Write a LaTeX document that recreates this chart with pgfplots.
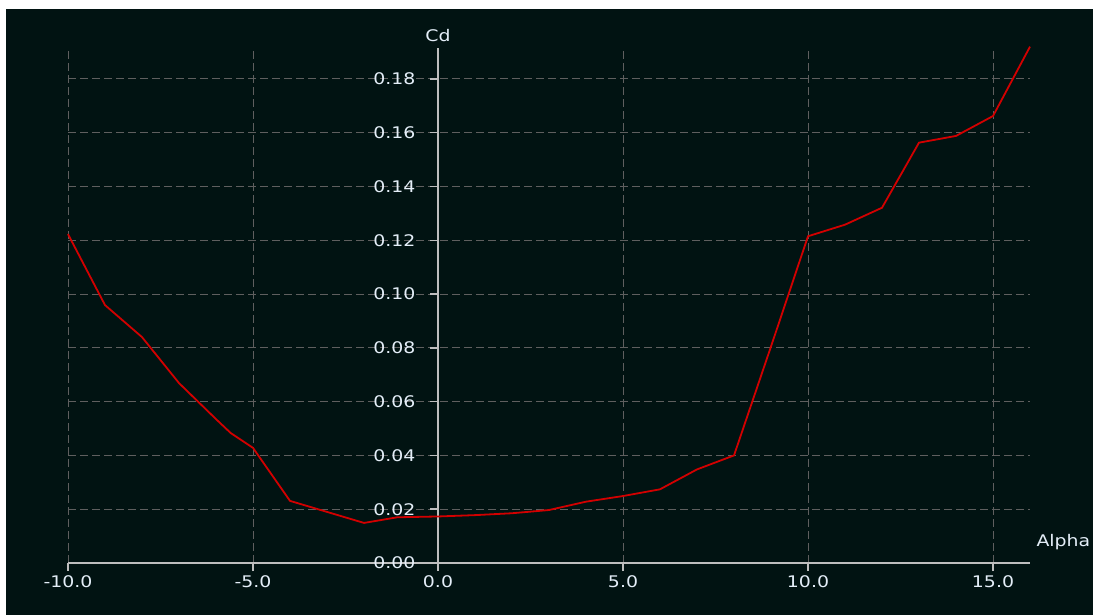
\documentclass[border=0pt]{standalone}
\usepackage{fontspec}
\setmainfont{DejaVu Sans}[FakeStretch=1.18]
\usepackage{pgfplots}
\pgfplotsset{compat=1.18}
\definecolor{bgc}{RGB}{1,19,18}
\definecolor{gridc}{RGB}{95,95,95}
\definecolor{axc}{RGB}{190,190,190}
\definecolor{txt}{RGB}{228,238,248}
\definecolor{curve}{RGB}{210,0,0}
\begin{document}
\begin{tikzpicture}
\fill[white] (0,0) rectangle (1093bp,615bp);
\fill[bgc] (6bp,0) rectangle (1093bp,606bp);
\begin{axis}[
  at={(68bp,52bp)}, anchor=south west,
  scale only axis, width=962bp, height=515bp,
  xmin=-10, xmax=16, ymin=0, ymax=0.1915,
  axis lines=middle, axis line style={-, axc, line width=1.5bp},
  hide obscured x ticks=false, hide obscured y ticks=false,
  xtick={-10,-5,0,5,10,15},
  ytick={0,0.02,0.04,0.06,0.08,0.10,0.12,0.14,0.16,0.18},
  tick align=outside, major tick length=8bp,
  tick style={axc, line width=1.5bp},
  grid=major, major grid style={gridc, line width=1bp, dash pattern=on 8bp off 4bp},
  /pgf/number format/assume math mode=true,
  xticklabel={\pgfmathprintnumber[fixed,fixed zerofill,precision=1]{\tick}},
  yticklabel={\pgfmathprintnumber[fixed,fixed zerofill,precision=2]{\tick}},
  tick label style={font=\fontsize{16bp}{19bp}\selectfont, text=txt},
  xticklabel style={anchor=north, yshift=-1bp},
  yticklabel style={anchor=east, xshift=-11bp},
  label style={font=\fontsize{16bp}{19bp}\selectfont, text=txt},
  xlabel={Alpha},
  xlabel style={at={(rel axis cs:1,0)}, anchor=west, xshift=3bp, yshift=21bp},
  ylabel={Cd},
  ylabel style={at={(rel axis cs:0.3846,1)}, anchor=center, rotate=0, yshift=12bp},
  clip=false,
]
\addplot[curve, line width=1.8bp] coordinates {
(-10,0.1223) (-9,0.0959) (-8,0.0840) (-7,0.0669) (-6,0.0535) (-5.6,0.0483)
(-5,0.0428) (-4,0.0231) (-3,0.0190) (-2,0.0149) (-1.1,0.0170) (0,0.0173)
(1,0.0178) (2,0.0185) (3,0.0197) (4,0.0228) (5,0.0249) (6,0.0274)
(7,0.0348) (8,0.0400) (9,0.0805) (10,0.1215) (11,0.1258) (12,0.1321)
(13,0.1563) (14,0.1588) (15,0.1662) (16,0.1920)
};
\end{axis}
\pgfresetboundingbox
\path[use as bounding box] (0,0) rectangle (1093bp,615bp);
\end{tikzpicture}
\end{document}
